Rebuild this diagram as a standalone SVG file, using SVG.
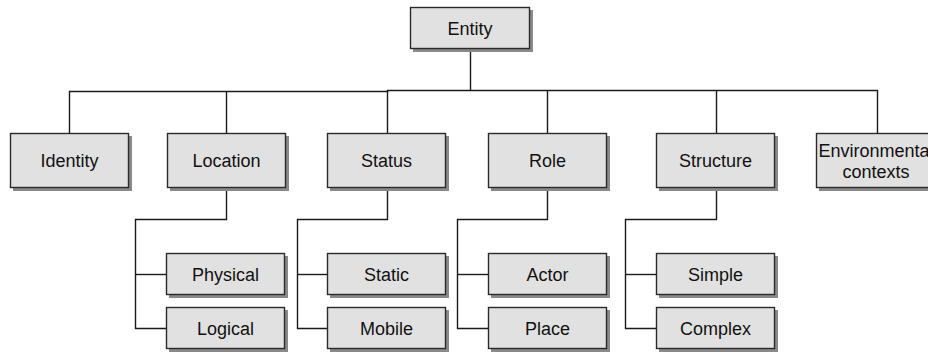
<svg xmlns="http://www.w3.org/2000/svg" width="928" height="352" viewBox="0 0 928 352">
  <style>
    .shadow { fill: #8a8a8a; }
    .box { fill: #e1e1e1; stroke: #2a2a2a; stroke-width: 1.4; }
    .lbl { font-family: "Liberation Sans", Arial, sans-serif; font-size: 18px; fill: #111; text-anchor: middle; }
    .wire { fill: none; stroke: #1a1a1a; stroke-width: 1.4; }
  </style>
  <rect width="928" height="352" fill="#ffffff"/>

  <!-- connectors -->
  <g id="connectors" class="wire">
    <path d="M470.5 49 V90.5"/>
    <path d="M69.5 133 V91.5 H387.5 V90.5 H877.5 V133"/>
    <path d="M226.5 91.5 V133"/>
    <path d="M387.5 90.5 V133"/>
    <path d="M547.5 90.5 V133"/>
    <path d="M716.5 90.5 V133"/>
    <!-- Location children -->
    <path d="M226.5 188 V219.5 H135.5 V328.5 H166"/>
    <path d="M135.5 274.5 H166"/>
    <!-- Status children -->
    <path d="M387.5 188 V219.5 H297.5 V328.5 H327"/>
    <path d="M297.5 274.5 H327"/>
    <!-- Role children -->
    <path d="M547.5 188 V219.5 H457.5 V328.5 H488"/>
    <path d="M457.5 274.5 H488"/>
    <!-- Structure children -->
    <path d="M716.5 188 V219.5 H625.5 V328.5 H656"/>
    <path d="M625.5 274.5 H656"/>
  </g>

  <g id="entity">
    <rect class="shadow" x="413" y="10" width="120" height="42"/>
    <rect class="box" x="410.5" y="7.5" width="119" height="41"/>
    <text class="lbl" x="470" y="35">Entity</text>
  </g>

  <g id="identity">
    <rect class="shadow" x="13" y="136" width="119" height="55"/>
    <rect class="box" x="10.5" y="133.5" width="118" height="54"/>
    <text class="lbl" x="69.5" y="167">Identity</text>
  </g>
  <g id="location">
    <rect class="shadow" x="170" y="136" width="119" height="55"/>
    <rect class="box" x="167.5" y="133.5" width="118" height="54"/>
    <text class="lbl" x="226.5" y="167">Location</text>
  </g>
  <g id="status">
    <rect class="shadow" x="330" y="136" width="119" height="55"/>
    <rect class="box" x="327.5" y="133.5" width="118" height="54"/>
    <text class="lbl" x="386.5" y="167">Status</text>
  </g>
  <g id="role">
    <rect class="shadow" x="491" y="136" width="119" height="55"/>
    <rect class="box" x="488.5" y="133.5" width="118" height="54"/>
    <text class="lbl" x="547.5" y="167">Role</text>
  </g>
  <g id="structure">
    <rect class="shadow" x="659" y="136" width="119" height="55"/>
    <rect class="box" x="656.5" y="133.5" width="118" height="54"/>
    <text class="lbl" x="715.5" y="167">Structure</text>
  </g>
  <g id="environmental-contexts">
    <rect class="shadow" x="819" y="136" width="120" height="55"/>
    <rect class="box" x="816.5" y="133.5" width="119" height="54"/>
    <text class="lbl" x="876" y="157">Environmental</text>
    <text class="lbl" x="876" y="178">contexts</text>
  </g>

  <g id="physical">
    <rect class="shadow" x="169" y="256" width="119" height="42"/>
    <rect class="box" x="166.5" y="253.5" width="118" height="41"/>
    <text class="lbl" x="225.5" y="280.5">Physical</text>
  </g>
  <g id="logical">
    <rect class="shadow" x="169" y="310" width="119" height="42"/>
    <rect class="box" x="166.5" y="307.5" width="118" height="41"/>
    <text class="lbl" x="225.5" y="334.5">Logical</text>
  </g>
  <g id="static">
    <rect class="shadow" x="330" y="256" width="119" height="42"/>
    <rect class="box" x="327.5" y="253.5" width="118" height="41"/>
    <text class="lbl" x="386.5" y="280.5">Static</text>
  </g>
  <g id="mobile">
    <rect class="shadow" x="330" y="310" width="119" height="42"/>
    <rect class="box" x="327.5" y="307.5" width="118" height="41"/>
    <text class="lbl" x="386.5" y="334.5">Mobile</text>
  </g>
  <g id="actor">
    <rect class="shadow" x="491" y="256" width="119" height="42"/>
    <rect class="box" x="488.5" y="253.5" width="118" height="41"/>
    <text class="lbl" x="547.5" y="280.5">Actor</text>
  </g>
  <g id="place">
    <rect class="shadow" x="491" y="310" width="119" height="42"/>
    <rect class="box" x="488.5" y="307.5" width="118" height="41"/>
    <text class="lbl" x="547.5" y="334.5">Place</text>
  </g>
  <g id="simple">
    <rect class="shadow" x="659" y="256" width="119" height="42"/>
    <rect class="box" x="656.5" y="253.5" width="118" height="41"/>
    <text class="lbl" x="715.5" y="280.5">Simple</text>
  </g>
  <g id="complex">
    <rect class="shadow" x="659" y="310" width="119" height="42"/>
    <rect class="box" x="656.5" y="307.5" width="118" height="41"/>
    <text class="lbl" x="715.5" y="334.5">Complex</text>
  </g>
</svg>
